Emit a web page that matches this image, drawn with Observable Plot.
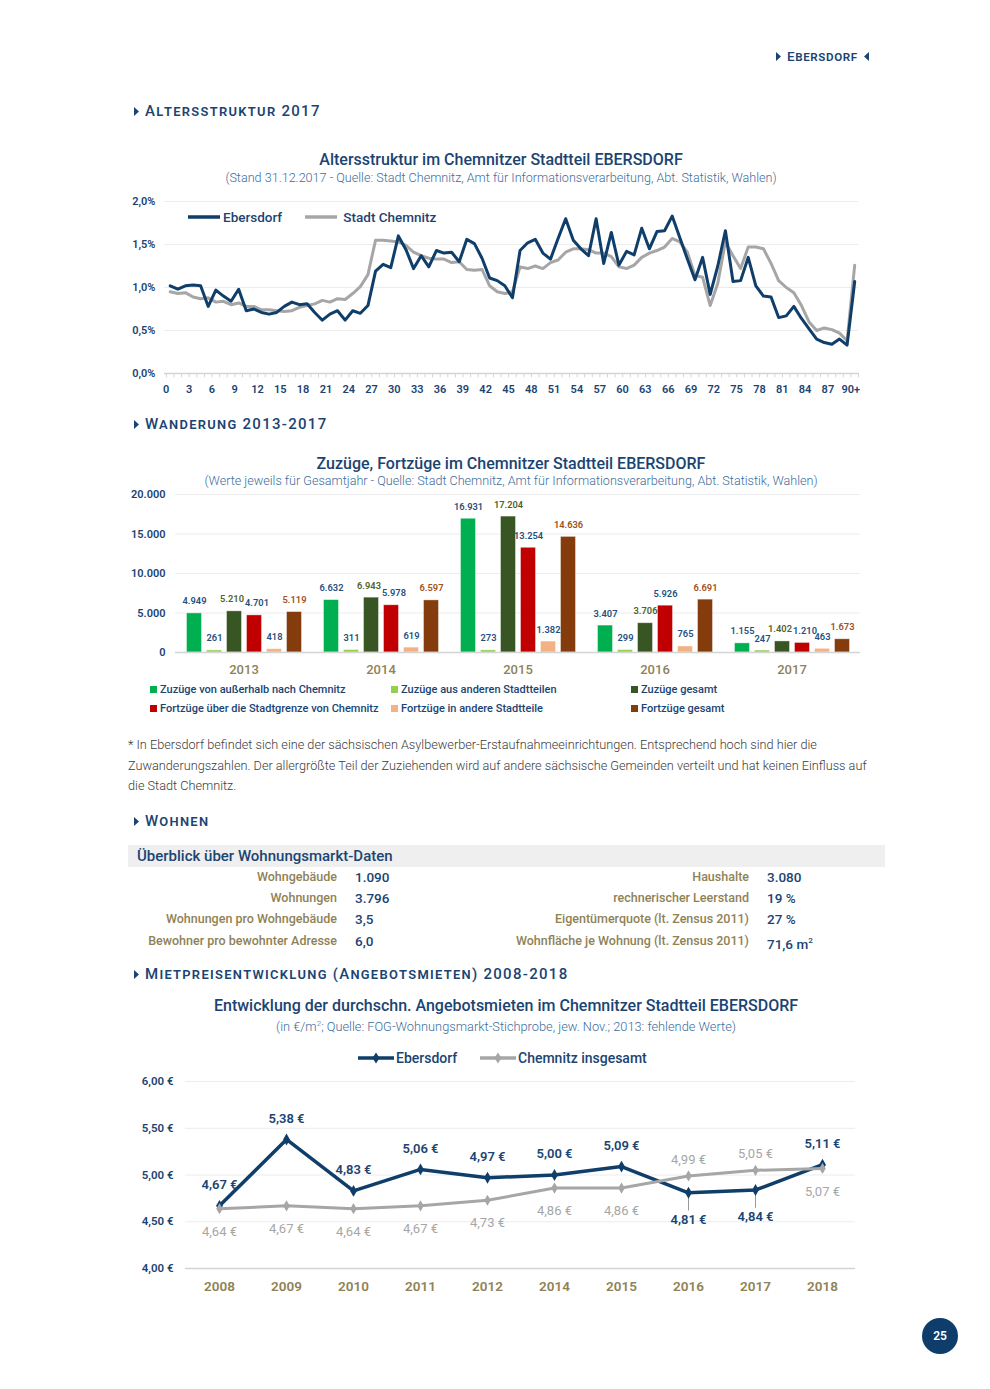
<!DOCTYPE html>
<html><head><meta charset="utf-8">
<script src="https://cdn.jsdelivr.net/npm/d3@7"></script>
<script src="https://cdn.jsdelivr.net/npm/@observablehq/plot@0.6"></script>
<style>
body{margin:0;background:#fff;font-family:Roboto,sans-serif;}
#page{position:relative;width:990px;height:1389px;overflow:hidden;background:#fff;}
.t{position:absolute;white-space:nowrap;}
svg{overflow:visible;}
</style></head><body><div id="page"></div>
<script>
// ---------- DATA ----------
const ages = d3.range(0, 91);
const ebersdorfAge = [1.02,0.98,1.02,1.03,1.02,0.78,0.97,0.90,0.84,0.98,0.73,0.75,0.71,0.69,0.71,0.78,0.83,0.80,0.81,0.71,0.62,0.69,0.73,0.62,0.73,0.70,0.79,1.19,1.27,1.23,1.60,1.44,1.22,1.37,1.24,1.43,1.40,1.41,1.30,1.56,1.51,1.34,1.11,1.08,1.02,0.88,1.43,1.52,1.56,1.40,1.33,1.57,1.80,1.55,1.45,1.37,1.80,1.28,1.64,1.26,1.42,1.38,1.69,1.45,1.65,1.66,1.83,1.58,1.33,1.09,1.35,0.92,1.25,1.66,1.07,1.08,1.35,1.02,0.90,0.89,0.65,0.67,0.78,0.64,0.52,0.40,0.36,0.34,0.40,0.33,1.07];
const chemnitzAge = [0.95,0.93,0.94,0.89,0.87,0.88,0.83,0.84,0.80,0.82,0.78,0.78,0.74,0.74,0.73,0.72,0.73,0.77,0.79,0.81,0.85,0.83,0.87,0.86,0.93,1.01,1.15,1.55,1.55,1.54,1.53,1.49,1.41,1.37,1.34,1.33,1.33,1.29,1.30,1.21,1.20,1.21,1.02,0.95,0.93,0.95,1.24,1.22,1.25,1.22,1.29,1.32,1.41,1.45,1.45,1.44,1.40,1.40,1.36,1.24,1.22,1.26,1.35,1.40,1.43,1.47,1.57,1.53,1.41,1.14,1.12,0.79,1.05,1.53,1.37,1.22,1.47,1.47,1.45,1.28,1.08,1.00,0.94,0.79,0.60,0.50,0.53,0.51,0.47,0.38,1.26];
const ageSeries = ["Ebersdorf", "Stadt Chemnitz"];
const ageYTicks = [0, 0.5, 1, 1.5, 2];
const ageXLabels = d3.range(0, 91, 3);

const migYears = ["2013", "2014", "2015", "2016", "2017"];
const migSeries = ["Zuzüge von außerhalb nach Chemnitz", "Zuzüge aus anderen Stadtteilen", "Zuzüge gesamt",
                   "Fortzüge über die Stadtgrenze von Chemnitz", "Fortzüge in andere Stadtteile", "Fortzüge gesamt"];
const zuzuegeAussen      = [4949, 6632, 16931, 3407, 1155];
const zuzuegeStadtteile  = [261, 311, 273, 299, 247];
const zuzuegeGesamt      = [5210, 6943, 17204, 3706, 1402];
const fortzuegeGrenze    = [4701, 5978, 13254, 5926, 1210];
const fortzuegeStadtteile= [418, 619, 1382, 765, 463];
const fortzuegeGesamt    = [5119, 6597, 14636, 6691, 1673];
const migYTicks = [0, 5000, 10000, 15000, 20000];

const wohnLeftLabels  = ["Wohngebäude", "Wohnungen", "Wohnungen pro Wohngebäude", "Bewohner pro bewohnter Adresse"];
const wohnLeftValues  = ["1.090", "3.796", "3,5", "6,0"];
const wohnRightLabels = ["Haushalte", "rechnerischer Leerstand", "Eigentümerquote (lt. Zensus 2011)", "Wohnfläche je Wohnung (lt. Zensus 2011)"];
const wohnRightValues = ["3.080", "19 %", "27 %", "71,6 m<sup style='font-size:8px'>2</sup>"];

const rentYears = ["2008", "2009", "2010", "2011", "2012", "2014", "2015", "2016", "2017", "2018"];
const rentEbersdorf = [4.67, 5.38, 4.83, 5.06, 4.97, 5.00, 5.09, 4.81, 4.84, 5.11];
const rentChemnitz  = [4.64, 4.67, 4.64, 4.67, 4.73, 4.86, 4.86, 4.99, 5.05, 5.07];
const rentYTicks = [4, 4.5, 5, 5.5, 6];

// ---------- STYLE ----------
const NAVY = "#1b4472", LINE = "#0f3e6a", SUB = "#3d6d9c", OLIVE = "#8e8256", GRAY = "#a6a6a6";
const GRID = "#ececec", AXIS = "#d4d4d4";
const barColors = ["#00b050", "#92d050", "#375623", "#c00000", "#f4b183", "#843c0c"];
const barLabelColors = ["#24507f", "#24507f", "#4f6228", "#24507f", "#24507f", "#a0501a"];
const FONT = "Roboto, sans-serif";
const de = d3.formatLocale({decimal: ",", thousands: ".", grouping: [3], currency: ["", " €"]});
const fmtInt = de.format(",d");
const fmtPct = d => de.format(".1f")(d) + "%";
const fmtEuro = d => de.format(".2f")(d) + " €";

const page = document.getElementById("page");
function txt(x, y, html, css = {}, anchor = "start", lh = 20) {
  const d = document.createElement("div");
  d.className = "t";
  d.innerHTML = html;
  Object.assign(d.style, {left: x + "px", top: (y - lh / 2) + "px", lineHeight: lh + "px", fontFamily: FONT}, css);
  if (anchor === "middle") d.style.transform = "translateX(-50%)";
  if (anchor === "end") d.style.transform = "translateX(-100%)";
  page.appendChild(d);
  return d;
}
function place(el, x, y) {
  el.style.position = "absolute"; el.style.left = x + "px"; el.style.top = y + "px";
  page.appendChild(el);
}
const triR = `<svg width="5" height="9" style="margin-right:6px;vertical-align:0px"><path d="M0,0L5,4.5L0,9Z" fill="${NAVY}"/></svg>`;
const triL = `<svg width="5" height="9" style="margin-left:6px;vertical-align:0px"><path d="M5,0L0,4.5L5,9Z" fill="${NAVY}"/></svg>`;
function section(x, y, label) {
  txt(x, y, triR + label, {fontSize: "15px", fontVariant: "small-caps", letterSpacing: "1.3px", color: NAVY, fontWeight: 500});
}
const TITLE = {fontSize: "16px", color: NAVY, fontWeight: 500};
const SUBT = {fontSize: "12.6px", color: SUB, fontWeight: 300};

// ---------- HEADER ----------
txt(776, 56, triR + "Ebersdorf" + triL, {fontSize: "13.5px", fontVariant: "small-caps", letterSpacing: "0.6px", color: NAVY, fontWeight: 500});
section(134, 111, "Altersstruktur 2017");
txt(501, 160, "Altersstruktur im Chemnitzer Stadtteil EBERSDORF", TITLE, "middle");
txt(501, 178, "(Stand 31.12.2017 - Quelle: Stadt Chemnitz, Amt für Informationsverarbeitung, Abt. Statistik, Wahlen)", SUBT, "middle");

// ---------- AGE CHART ----------
const ageRows = [];
ages.forEach((a, i) => {
  ageRows.push({age: a, value: chemnitzAge[i], series: ageSeries[1]});
});
ages.forEach((a, i) => {
  ageRows.push({age: a, value: ebersdorfAge[i], series: ageSeries[0]});
});
const ageChart = Plot.plot({
  width: 750, height: 213, marginLeft: 44, marginRight: 12, marginTop: 11, marginBottom: 30,
  style: {background: "transparent", fontFamily: FONT, overflow: "visible"},
  x: {domain: [-0.75, 90.5], axis: null},
  y: {domain: [0, 2], axis: null},
  marks: [
    Plot.gridY([0.5, 1, 1.5, 2], {stroke: GRID, strokeOpacity: 1}),
    Plot.axisY(ageYTicks, {tickSize: 0, tickPadding: 9, tickFormat: fmtPct, fill: NAVY, fontSize: 11, fontWeight: 600, label: null}),
    Plot.ruleY([0], {stroke: AXIS, strokeWidth: 1.5}),
    Plot.ruleX(d3.range(-0.5, 91, 1), {x: d => d, y1: 0, y2: -0.05, stroke: AXIS}),
    Plot.text(ageXLabels, {x: d => d, y: 0, dy: 16, dx: -4, text: d => d === 90 ? "90+" : String(d), fill: NAVY, fontSize: 11, fontWeight: 600}),
    Plot.line(ageRows, {x: "age", y: "value", z: "series", stroke: d => d.series === ageSeries[0] ? LINE : GRAY, strokeWidth: 3})
  ]
});
place(ageChart, 120, 190);
// legend
const sw = (c, w = 32) => `<svg width="${w}" height="6" style="vertical-align:2px;margin-right:3px"><line x1="0" x2="${w}" y1="3" y2="3" stroke="${c}" stroke-width="3.5"/></svg>`;
txt(188, 217, sw(LINE) + ageSeries[0], {fontSize: "13.5px", color: NAVY, fontWeight: 500});
txt(305, 217, sw(GRAY) + "&nbsp;" + ageSeries[1], {fontSize: "13.5px", color: NAVY, fontWeight: 500});

// ---------- MIGRATION ----------
section(134, 424, "Wanderung 2013-2017");
txt(511, 464, "Zuzüge, Fortzüge im Chemnitzer Stadtteil EBERSDORF", TITLE, "middle");
txt(511, 481, "(Werte jeweils für Gesamtjahr - Quelle: Stadt Chemnitz, Amt für Informationsverarbeitung, Abt. Statistik, Wahlen)", SUBT, "middle");

const migValues = [zuzuegeAussen, zuzuegeStadtteile, zuzuegeGesamt, fortzuegeGrenze, fortzuegeStadtteile, fortzuegeGesamt];
const migRows = [];
migYears.forEach((yr, i) => migSeries.forEach((s, j) => migRows.push({year: yr, series: s, idx: j, value: migValues[j][i]})));
// labels of neighbouring bars 3 and 4 of a group collide when their heights are close: push them apart
const nearPair = d => Math.abs(migValues[2][migYears.indexOf(d.year)] - migValues[3][migYears.indexOf(d.year)]) < 1500;
const nudgeL = d => d.idx === 2 && nearPair(d);
const nudgeR = d => d.idx === 3 && nearPair(d);
const labelOpts = {fx: "year", x: "series", y: "value", dy: -12, text: d => fmtInt(d.value), fill: d => barLabelColors[d.idx], fontSize: 9.3, fontWeight: 600};
const migChart = Plot.plot({
  width: 760, height: 197, marginLeft: 64.5, marginRight: 10.5, marginTop: 9, marginBottom: 30,
  style: {background: "transparent", fontFamily: FONT, overflow: "visible"},
  fx: {domain: migYears, padding: 0, label: null},
  x: {domain: migSeries, paddingInner: 0.25, paddingOuter: 0.55, axis: null},
  y: {domain: [0, 20000], axis: null},
  color: {domain: migSeries, range: barColors},
  marks: [
    Plot.gridY([5000, 10000, 15000, 20000], {stroke: GRID, strokeOpacity: 1}),
    Plot.axisY(migYTicks, {tickSize: 0, tickPadding: 10, tickFormat: fmtInt, fill: NAVY, fontSize: 11, fontWeight: 600, label: null}),
    Plot.axisFx({anchor: "bottom", tickSize: 0, tickPadding: 12, fill: OLIVE, fontSize: 13, fontWeight: 500, label: null}),
    Plot.barY(migRows, {fx: "year", x: "series", y: "value", fill: "series", stroke: "#ffffff", strokeOpacity: 0.5, strokeWidth: 0.8}),
    Plot.ruleY([0], {stroke: AXIS, strokeWidth: 1.5}),
    Plot.text(migRows.filter(d => !nudgeL(d) && !nudgeR(d)), labelOpts),
    Plot.text(migRows.filter(nudgeL), {...labelOpts, dx: -2.5}),
    Plot.text(migRows.filter(nudgeR), {...labelOpts, dx: 2.5})
  ]
});
place(migChart, 110, 485);
// legend
const legendPos = [[150, 690], [391, 690], [631, 690], [150, 709], [391, 709], [631, 709]];
const legendOrder = [0, 1, 2, 3, 4, 5];
legendOrder.forEach((j, k) => {
  const [lx, ly] = legendPos[k];
  txt(lx, ly, `<span style="display:inline-block;width:7px;height:7px;background:${barColors[j]};margin-right:3px;vertical-align:0px"></span>${migSeries[j]}`, {fontSize: "11px", color: NAVY, fontWeight: 500});
});
// footnote
const FN = {fontSize: "12.7px", color: "#3c3c3c", fontWeight: 300};
txt(128, 745, "* In Ebersdorf befindet sich eine der sächsischen Asylbewerber-Erstaufnahmeeinrichtungen. Entsprechend hoch sind hier die", FN);
txt(128, 765.5, "Zuwanderungszahlen. Der allergrößte Teil der Zuziehenden wird auf andere sächsische Gemeinden verteilt und hat keinen Einfluss auf", FN);
txt(128, 786, "die Stadt Chemnitz.", FN);

// ---------- WOHNEN ----------
section(134, 821, "Wohnen");
const band = document.createElement("div");
Object.assign(band.style, {position: "absolute", left: "128px", top: "845px", width: "757px", height: "22px", background: "#efefef"});
page.appendChild(band);
txt(137, 856, "Überblick über Wohnungsmarkt-Daten", {fontSize: "15px", color: NAVY, fontWeight: 500});
const rowY = [877, 898, 919, 941];
const LBL = {fontSize: "12.5px", color: OLIVE, fontWeight: 500};
const VAL = {fontSize: "13.5px", color: NAVY, fontWeight: 500};
rowY.forEach((y, i) => {
  txt(337, y, wohnLeftLabels[i], LBL, "end");
  txt(355, y, wohnLeftValues[i], VAL);
  txt(749, y, wohnRightLabels[i], LBL, "end");
  txt(767, y, wohnRightValues[i], VAL);
});

// ---------- RENT ----------
section(134, 974, "Mietpreisentwicklung (Angebotsmieten) 2008-2018");
txt(506, 1006, "Entwicklung der durchschn. Angebotsmieten im Chemnitzer Stadtteil EBERSDORF", TITLE, "middle");
txt(506, 1024, "(in €/m<sup style='font-size:8px'>2</sup>; Quelle: FOG-Wohnungsmarkt-Stichprobe, jew. Nov.; 2013: fehlende Werte)", {fontSize: "12.8px", color: SUB, fontWeight: 300}, "middle");
const swd = (c) => `<svg width="36" height="12" style="vertical-align:-1px;margin-right:2px"><line x1="0" x2="36" y1="6" y2="6" stroke="${c}" stroke-width="3.5"/><path d="M18,0.5L21.5,6L18,11.5L14.5,6Z" fill="${c}"/></svg>`;
txt(358, 1058, swd(LINE) + "Ebersdorf", {fontSize: "14px", color: NAVY, fontWeight: 500});
txt(480, 1058, swd(GRAY) + "Chemnitz insgesamt", {fontSize: "14px", color: NAVY, fontWeight: 500});

const ebRows = rentYears.map((y, i) => ({year: y, value: rentEbersdorf[i]}));
const chRows = rentYears.map((y, i) => ({year: y, value: rentChemnitz[i]}));
const ebBelow = new Set(["2016", "2017"]);
const chAbove = new Set(["2016", "2017"]);
const rentChart = Plot.plot({
  width: 750, height: 230, marginLeft: 65, marginRight: 15, marginTop: 11, marginBottom: 32,
  style: {background: "transparent", fontFamily: FONT, overflow: "visible"},
  x: {type: "point", domain: rentYears, padding: 0.5, axis: null},
  y: {domain: [4, 6], axis: null},
  marks: [
    Plot.gridY([4.5, 5, 5.5, 6], {stroke: GRID, strokeOpacity: 1}),
    Plot.ruleY([4], {stroke: AXIS, strokeWidth: 1.5}),
    Plot.axisY(rentYTicks, {tickSize: 0, tickPadding: 12, tickFormat: fmtEuro, fill: NAVY, fontSize: 11.5, fontWeight: 600, label: null}),
    Plot.axisX({tickSize: 0, tickPadding: 13, fill: OLIVE, fontSize: 13.5, fontWeight: 600, label: null}),
    Plot.link(ebRows.filter(d => ebBelow.has(d.year)), {x1: "year", x2: "year", y1: d => d.value - 0.04, y2: d => d.value - 0.19, stroke: "#9a9a9a", strokeWidth: 1}),
    Plot.line(ebRows, {x: "year", y: "value", stroke: LINE, strokeWidth: 3.5}),
    Plot.dot(ebRows, {x: "year", y: "value", symbol: "diamond", r: 3.6, fill: LINE}),
    Plot.line(chRows, {x: "year", y: "value", stroke: GRAY, strokeWidth: 3}),
    Plot.dot(chRows, {x: "year", y: "value", symbol: "diamond", r: 3.4, fill: GRAY}),
    Plot.text(ebRows.filter(d => !ebBelow.has(d.year)), {x: "year", y: "value", dy: -21, text: d => fmtEuro(d.value), fill: NAVY, fontSize: 13, fontWeight: 600}),
    Plot.text(ebRows.filter(d => ebBelow.has(d.year)), {x: "year", y: "value", dy: 27, text: d => fmtEuro(d.value), fill: NAVY, fontSize: 13, fontWeight: 600}),
    Plot.text(chRows.filter(d => !chAbove.has(d.year)), {x: "year", y: "value", dy: 23, text: d => fmtEuro(d.value), fill: GRAY, fontSize: 13, fontWeight: 400}),
    Plot.text(chRows.filter(d => chAbove.has(d.year)), {x: "year", y: "value", dy: -16, text: d => fmtEuro(d.value), fill: GRAY, fontSize: 13, fontWeight: 400})
  ]
});
place(rentChart, 120, 1070);

// ---------- PAGE NUMBER ----------
const pn = document.createElement("div");
Object.assign(pn.style, {position: "absolute", left: "922px", top: "1318px", width: "36px", height: "36px", borderRadius: "50%", background: "#0e3d6c", color: "#fff", fontFamily: FONT, fontWeight: 600, fontSize: "12px", lineHeight: "36px", textAlign: "center"});
pn.textContent = "25";
page.appendChild(pn);
</script></body></html>
